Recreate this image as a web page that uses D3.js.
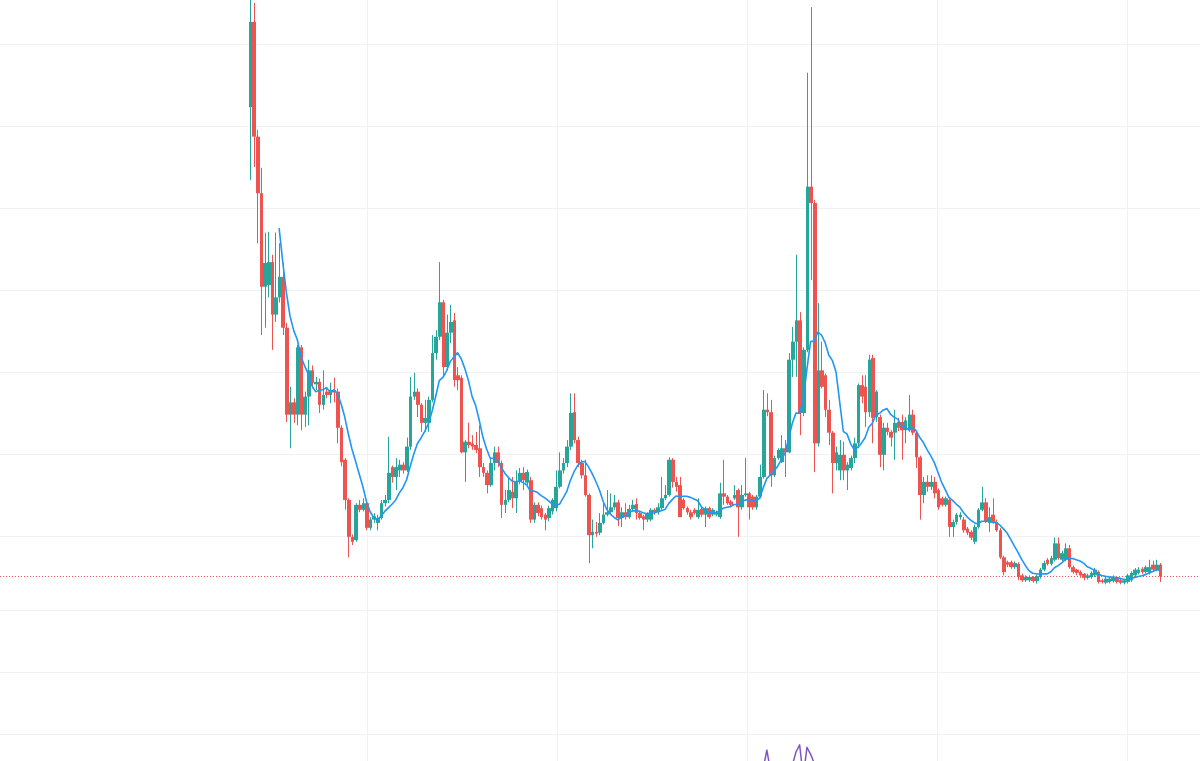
<!DOCTYPE html>
<html>
<head>
<meta charset="utf-8">
<script src="https://cdn.jsdelivr.net/npm/d3@7"></script>
<style>
  html, body { margin: 0; padding: 0; background: #fff; overflow: hidden; }
</style>
</head>
<body>
<div id="chart"></div>
<script>
// weekly bars, first one starts on this monday
var firstWeek = "2018-05-21";

var opens = [
  62.3,72.7,58.7,51.8,40.4,40.6,43.4,37.0,39.1,41.6,
  35.4,24.8,26.3,24.8,33.0,24.8,27.0,30.2,28.5,28.8,
  26.0,27.6,27.2,27.8,27.6,23.2,19.3,14.4,9.9,9.5,
  13.8,13.2,14.0,11.0,12.0,11.6,12.2,14.0,14.4,18.4,
  17.2,18.0,18.7,18.0,20.9,27.0,27.6,26.0,23.8,23.8,
  26.6,32.3,34.3,38.5,30.6,34.8,36.3,29.6,29.3,20.2,
  21.5,21.3,21.1,20.7,18.4,17.7,16.2,18.9,20.2,18.9,
  13.8,14.4,15.4,14.6,16.6,17.7,16.5,16.8,12.0,13.8,
  13.4,12.6,12.2,13.0,13.4,16.0,18.0,18.9,20.9,25.1,
  21.7,18.9,17.4,15.0,10.1,10.5,10.4,11.6,12.6,12.9,
  13.5,14.1,12.2,12.9,12.3,13.3,13.9,12.8,12.4,12.0,
  12.0,13.2,12.9,13.4,14.6,15.0,19.3,16.6,16.2,14.4,
  13.4,12.9,13.2,12.3,13.3,12.6,13.4,12.6,12.6,12.3,
  15.2,14.8,14.2,14.6,15.6,13.5,15.0,15.2,14.8,13.5,
  14.8,17.2,25.4,25.1,17.4,19.5,19.0,20.7,20.2,31.5,
  33.7,36.3,25.0,32.7,52.6,50.6,21.3,30.2,29.6,25.4,
  22.6,18.9,18.0,19.9,18.0,18.3,19.5,21.3,28.4,28.2,
  25.1,31.7,24.5,24.5,19.9,23.2,22.7,22.6,23.9,23.9,
  22.9,22.9,24.8,22.6,19.6,15.0,16.6,16.0,16.6,15.6,
  14.6,13.8,14.4,11.1,11.7,12.3,12.0,10.9,10.5,9.3,
  11.1,13.2,14.1,11.6,12.6,11.7,10.7,7.4,6.8,6.8,
  6.2,6.6,5.2,4.6,4.6,5.0,4.5,5.0,5.9,7.1,
  6.6,7.1,9.1,7.1,7.1,8.5,6.2,5.9,5.6,5.4,
  4.9,5.0,5.2,5.6,4.6,4.3,4.4,4.5,5.0,4.6,
  4.3,4.4,4.6,5.2,5.5,6.0,5.6,5.5,6.5,5.9,
  6.5
];

var highs = [
  76.5,75.0,59.5,54.9,47.0,47.1,44.3,47.0,45.7,43.3,
  36.0,28.2,26.8,33.3,33.3,27.6,31.5,30.8,29.4,29.2,
  30.2,28.0,28.7,29.3,28.0,23.5,19.5,14.6,10.2,14.0,
  14.4,14.6,14.4,12.3,12.8,12.6,14.4,15.0,22.1,18.6,
  19.5,19.3,19.0,22.0,29.4,29.9,28.0,26.2,26.6,27.0,
  34.5,35.1,43.4,38.8,37.0,38.2,37.2,30.6,29.6,21.7,
  23.8,22.3,22.7,23.5,18.9,18.0,19.5,20.9,20.9,19.2,
  15.6,17.2,17.2,18.0,18.3,18.4,18.1,17.2,14.1,14.1,
  13.7,12.8,13.7,14.6,18.0,20.2,19.5,21.7,27.4,27.4,
  22.1,19.3,19.3,15.2,12.0,11.7,12.8,14.0,15.6,15.2,
  15.0,14.4,13.5,14.0,13.8,14.4,14.6,13.1,12.6,12.9,
  13.4,13.4,14.0,17.2,16.2,19.6,19.5,17.2,17.2,14.6,
  13.6,13.2,13.4,14.6,13.5,13.6,13.6,13.4,13.1,16.5,
  19.3,15.0,14.4,16.2,15.8,16.2,19.5,15.4,15.0,15.0,
  18.7,27.8,27.4,26.6,19.8,20.7,22.3,21.7,32.3,35.5,
  44.3,37.3,33.0,66.5,74.5,51.0,38.4,33.7,29.8,26.6,
  22.8,20.9,21.7,21.5,19.0,19.8,22.0,28.6,29.6,29.6,
  32.1,32.1,27.8,24.8,23.8,23.8,22.9,25.4,24.4,24.8,
  24.5,27.2,25.4,22.8,19.8,17.2,17.4,17.4,17.2,15.8,
  14.8,14.8,14.6,12.0,12.8,12.9,12.3,11.1,10.7,11.4,
  13.4,16.0,14.6,13.5,14.6,12.0,11.0,7.6,7.0,7.0,
  6.9,6.8,5.4,5.2,5.2,5.1,5.3,6.1,7.0,7.3,
  7.6,9.8,9.8,8.2,9.1,8.9,6.4,6.0,5.8,5.5,
  5.4,5.7,6.1,5.8,4.8,5.0,5.0,5.2,5.1,4.8,
  4.8,5.4,5.7,6.1,6.2,6.2,6.4,7.1,7.0,7.1,
  6.7
];

var lows = [
  53.4,55.0,45.7,34.5,35.4,39.1,32.7,36.1,38.5,34.5,
  23.9,20.7,23.8,23.5,22.9,23.3,23.5,28.0,27.8,25.0,
  25.4,26.8,26.2,26.3,21.3,18.5,13.2,7.4,8.9,9.3,
  12.9,13.0,10.7,10.7,11.6,10.7,12.0,13.6,14.0,16.5,
  15.6,17.2,17.6,17.8,20.5,26.6,24.5,22.7,22.7,22.7,
  26.3,31.5,33.9,29.6,30.2,33.5,28.2,27.8,20.1,16.6,
  20.7,20.5,20.1,17.2,17.2,15.2,16.0,18.0,18.4,12.2,
  12.8,14.1,13.4,12.8,16.3,15.6,16.2,11.6,11.6,12.4,
  12.0,10.7,11.8,12.6,13.0,15.8,17.6,18.4,20.5,21.3,
  18.4,17.0,14.8,6.7,8.5,9.9,10.1,11.4,12.4,12.6,
  13.2,11.2,11.1,12.0,12.1,13.0,12.0,12.0,10.7,11.7,
  11.8,12.6,12.6,13.2,14.4,14.8,15.9,15.4,12.3,13.2,
  12.6,12.0,12.6,12.1,12.3,11.1,12.1,12.4,12.4,12.1,
  13.8,13.8,13.6,14.4,9.9,13.2,14.8,12.0,13.2,13.2,
  14.6,17.0,24.6,16.0,17.2,19.3,18.9,17.2,20.1,29.4,
  29.4,22.3,24.6,32.4,41.2,17.8,20.9,28.0,24.5,21.1,
  15.2,18.0,16.8,16.8,15.6,18.0,18.9,20.7,26.2,23.3,
  24.5,21.3,23.9,18.4,18.0,22.3,20.9,19.3,22.8,19.3,
  21.3,22.7,22.3,18.3,12.0,14.0,15.4,15.6,14.6,13.2,
  13.6,13.6,9.9,9.9,11.4,12.0,10.4,10.1,9.5,9.0,
  10.9,13.0,11.6,10.5,11.5,10.5,7.2,5.2,6.2,6.0,
  6.0,4.6,4.4,4.4,4.4,4.3,4.2,4.8,5.7,6.4,
  6.4,6.9,7.1,6.9,6.9,6.0,5.4,5.2,4.9,4.6,
  4.7,4.8,5.0,4.2,4.2,4.1,4.2,4.3,4.2,4.1,
  4.1,4.2,4.4,5.0,5.3,5.4,5.4,5.3,5.6,5.7,
  4.4
];

var closes = [
  72.7,58.7,51.8,40.4,43.3,43.4,37.0,39.1,41.6,35.4,
  24.8,26.3,24.8,33.0,24.8,27.0,30.2,28.7,28.8,26.0,
  27.2,27.2,27.8,27.5,23.2,19.0,14.4,9.9,9.3,13.8,
  13.2,14.0,11.0,12.0,12.4,12.2,14.0,14.4,17.7,17.2,
  18.4,18.7,18.0,20.9,27.0,27.6,26.0,23.8,24.4,26.6,
  32.3,34.3,38.5,30.6,34.8,36.1,29.0,29.0,20.2,21.5,
  21.1,20.9,20.5,18.4,17.7,16.2,18.9,20.2,18.9,13.8,
  14.4,15.6,14.6,16.6,17.7,16.8,17.8,12.0,13.8,12.8,
  12.3,12.0,13.4,14.4,16.0,18.0,18.9,20.9,25.0,21.7,
  18.9,17.4,15.0,10.1,10.5,10.3,11.6,12.6,12.9,13.5,
  14.1,12.2,12.9,12.3,13.3,13.8,12.8,12.2,12.0,12.8,
  13.2,12.9,13.5,14.6,15.0,19.3,16.6,16.0,12.3,13.4,
  12.9,12.3,12.8,13.2,12.6,13.4,12.3,13.2,12.9,15.2,
  14.8,14.0,13.8,15.0,13.5,15.0,15.2,13.5,13.5,14.8,
  17.2,25.4,25.1,17.4,19.5,20.5,20.7,20.2,31.5,33.7,
  36.3,25.0,32.7,52.6,50.6,21.3,30.2,28.2,25.4,22.6,
  18.9,20.2,19.9,18.0,18.7,19.5,21.3,28.4,27.0,25.1,
  31.5,24.4,27.6,19.9,23.2,22.7,22.0,23.8,23.2,22.9,
  24.1,24.8,22.6,19.6,15.0,16.6,16.0,16.6,15.2,13.5,
  13.8,14.6,11.1,11.7,12.6,12.6,10.7,10.4,9.8,11.1,
  13.2,14.1,11.7,12.3,11.7,10.7,7.4,5.6,6.5,6.2,
  6.7,5.0,4.6,5.0,5.0,4.5,5.1,5.9,6.7,6.6,
  7.3,9.1,7.3,7.9,8.5,6.2,5.6,5.5,5.2,4.9,
  5.2,5.5,5.9,4.4,4.4,4.8,4.8,5.0,4.4,4.3,
  4.6,5.2,5.5,5.9,5.9,5.6,6.2,6.2,5.9,6.5,
  5.1
];

var maLength = 9;
var priceGrid = [10, 20, 30, 40, 50, 60, 70];

// lower pane line, only the part around the 2021 spike reaches the view
var lowerGrid = [20, 40, 60];
var lowerFirstBar = 138;
var lowerValues = [4, 5, 7, 9, 14.8, 8, 6, 5, 6, 6, 8, 10, 14.2, 16.5, 6, 15.7, 13.5, 10.6, 7, 5, 4];

var upColor = "#26a69a";
var downColor = "#ef5350";

var svgWidth = 1200;
var svgHeight = 761;

var svg = d3.select("#chart")
  .append("svg")
  .attr("width", svgWidth)
  .attr("height", svgHeight)
  .style("display", "block")
  .style("background", "#fff");

var parseDay = d3.utcParse("%Y-%m-%d");
var start = parseDay(firstWeek);
var bars = closes.map(function(c, i) {
  return {
    date: d3.utcDay.offset(start, i * 7),
    open: opens[i], high: highs[i], low: lows[i], close: c
  };
});

var xScale = d3.scaleUtc()
  .domain([bars[0].date, bars[bars.length - 1].date])
  .range([250, 1160]);

var yScale = d3.scaleLinear()
  .domain([0, 70])
  .range([618, 44]);

var yLower = d3.scaleLinear()
  .domain([20, 60])
  .range([734, 610]);

var gridColor = "#f0f1f4";

// year grid lines
var years = d3.utcYear.range(bars[0].date, bars[bars.length - 1].date);
svg.append("g").selectAll("line")
  .data(years)
  .enter()
  .append("line")
  .attr("x1", d => Math.round(xScale(d)) + 0.5)
  .attr("x2", d => Math.round(xScale(d)) + 0.5)
  .attr("y1", 0)
  .attr("y2", svgHeight)
  .attr("stroke", gridColor);

svg.append("g").selectAll("line")
  .data(priceGrid)
  .enter()
  .append("line")
  .attr("x1", 0)
  .attr("x2", svgWidth)
  .attr("y1", d => Math.round(yScale(d)) + 0.5)
  .attr("y2", d => Math.round(yScale(d)) + 0.5)
  .attr("stroke", gridColor);

svg.append("g").selectAll("line")
  .data(lowerGrid)
  .enter()
  .append("line")
  .attr("x1", 0)
  .attr("x2", svgWidth)
  .attr("y1", d => Math.round(yLower(d)) + 0.5)
  .attr("y2", d => Math.round(yLower(d)) + 0.5)
  .attr("stroke", gridColor);

// last price line
var lastClose = bars[bars.length - 1].close;
svg.append("line")
  .attr("x1", 0)
  .attr("x2", svgWidth)
  .attr("y1", Math.round(yScale(lastClose)) + 0.5)
  .attr("y2", Math.round(yScale(lastClose)) + 0.5)
  .attr("stroke", downColor)
  .attr("stroke-width", 1)
  .attr("stroke-dasharray", "1,2");

svg.append("clipPath")
  .attr("id", "mainClip")
  .append("rect")
  .attr("x", 0).attr("y", 0)
  .attr("width", svgWidth).attr("height", 596);

var mainPane = svg.append("g").attr("clip-path", "url(#mainClip)");

var candles = mainPane.selectAll("g.candle")
  .data(bars)
  .enter()
  .append("g")
  .attr("class", "candle");

candles.append("line")
  .attr("x1", d => Math.round(xScale(d.date)) + 0.5)
  .attr("x2", d => Math.round(xScale(d.date)) + 0.5)
  .attr("y1", d => yScale(d.high))
  .attr("y2", d => yScale(d.low))
  .attr("stroke", d => d.close >= d.open ? upColor : downColor)
  .attr("stroke-width", 1);

function bodyLeft(d) { return Math.round(xScale(d.date) - 1.3); }
function bodyRight(d) { return Math.round(xScale(d.date) + 2.3); }

candles.append("rect")
  .attr("x", bodyLeft)
  .attr("width", d => bodyRight(d) - bodyLeft(d))
  .attr("y", d => yScale(Math.max(d.open, d.close)))
  .attr("height", d => Math.max(1, Math.abs(yScale(d.open) - yScale(d.close))))
  .attr("fill", d => d.close >= d.open ? upColor : downColor);

// simple moving average of closes
var maPoints = [];
for (var i = maLength - 1; i < bars.length; i++) {
  var avg = d3.mean(bars.slice(i - maLength + 1, i + 1), d => d.close);
  maPoints.push({ date: bars[i].date, value: avg });
}

var maLine = d3.line()
  .x(d => xScale(d.date))
  .y(d => yScale(d.value));

mainPane.append("path")
  .datum(maPoints)
  .attr("d", maLine)
  .attr("fill", "none")
  .attr("stroke", "#2196f3")
  .attr("stroke-width", 1.6)
  .attr("stroke-linejoin", "round");

// lower pane
var lowerPoints = lowerValues.map(function(v, k) {
  return { date: bars[lowerFirstBar + k].date, value: v };
});

var lowerLine = d3.line()
  .x(d => xScale(d.date))
  .y(d => yLower(d.value));

svg.append("path")
  .datum(lowerPoints)
  .attr("d", lowerLine)
  .attr("fill", "none")
  .attr("stroke", "#7e57c2")
  .attr("stroke-width", 1.5)
  .attr("stroke-linejoin", "round");
</script>
</body>
</html>
